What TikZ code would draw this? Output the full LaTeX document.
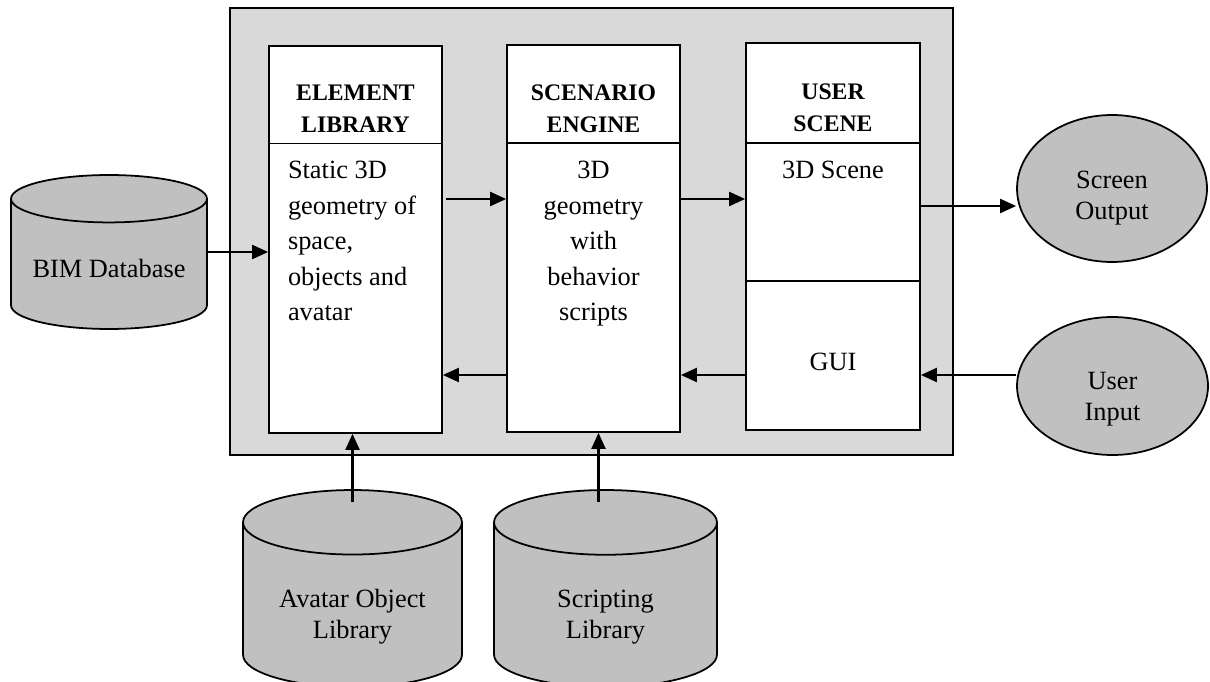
\documentclass[tikz,border=0pt]{standalone}
\usepackage{fontspec}
\setmainfont{Liberation Serif}
\usepackage{tikz}
\usetikzlibrary{shapes.geometric,arrows.meta,positioning,calc}

\definecolor{panelgray}{HTML}{D9D9D9}
\definecolor{dbgray}{HTML}{C0C0C0}

% fixed-size cell content: width, height, top gap, text
\newcommand{\cellbox}[4]{\parbox[t][#2][t]{#1}{\vspace*{#3}#4}}

\begin{document}
\begin{tikzpicture}[
  x=0.02cm, y=-0.02cm,
  panel/.style={draw, line width=1pt, fill=panelgray, inner sep=0pt},
  cell/.style={draw, line width=1pt, fill=white, inner sep=0pt},
  head/.style={font=\fontsize{13.5}{18.2}\selectfont\bfseries},
  body/.style={font=\fontsize{15}{20.2}\selectfont},
  ext/.style={draw, line width=1pt, ellipse, fill=dbgray, inner sep=0pt, font=\fontsize{15}{17.6}\selectfont},
  db/.style={draw, line width=1pt, cylinder, shape border rotate=90, fill=dbgray, inner sep=0pt, font=\fontsize{15}{17.6}\selectfont, align=center},
  arr/.style={-{Triangle[length=0.32cm,width=0.28cm]}, line width=1.2pt}
]
\useasboundingbox (0,0) rectangle (1210,682);

\node[panel, minimum width=14.46cm, minimum height=8.94cm] (frame) at (591.5,231.5) {};

% three columns
\node[cell, head, minimum width=3.46cm, minimum height=1.95cm] (elemhead) at (355.5,94.75)
  {\cellbox{3.46cm}{1.95cm}{0.78cm}{\centering ELEMENT\\LIBRARY}};
\node[cell, body, minimum width=3.46cm, minimum height=5.79cm] (elembody) at (355.5,288.25)
  {\cellbox{3.46cm}{5.79cm}{0.36cm}{\raggedright\leftskip=0.38cm Static 3D\\geometry of\\space,\\objects and\\avatar}};

\node[cell, head, minimum width=3.46cm, minimum height=1.96cm] (scenhead) at (593.5,94)
  {\cellbox{3.46cm}{1.96cm}{0.8cm}{\centering SCENARIO\\ENGINE}};
\node[cell, body, minimum width=3.46cm, minimum height=5.78cm] (scenbody) at (593.5,287.5)
  {\cellbox{3.46cm}{5.78cm}{0.37cm}{\centering 3D\\geometry\\with\\behavior\\scripts}};

\node[cell, head, minimum width=3.48cm, minimum height=2cm] (userhead) at (833,93)
  {\cellbox{3.48cm}{2cm}{0.82cm}{\centering USER\\SCENE}};
\node[cell, body, minimum width=3.48cm, minimum height=2.76cm] (scene) at (833,212)
  {\cellbox{3.48cm}{2.76cm}{0.37cm}{\centering 3D Scene}};
\node[cell, body, minimum width=3.48cm, minimum height=2.98cm] (gui) at (833,355.5)
  {\cellbox{3.48cm}{2.98cm}{1.44cm}{\centering GUI}};

% outside
\node[ext, minimum width=3.8cm, minimum height=2.94cm] (screen) at (1112,188.5)
  {\cellbox{2.4cm}{1.8cm}{0.56cm}{\centering Screen\\Output}};
\node[ext, minimum width=3.82cm, minimum height=2.76cm] (input) at (1112.5,386)
  {\cellbox{2.4cm}{1.6cm}{0.52cm}{\centering User\\Input}};

\node[db, minimum width=3.92cm, minimum height=3.08cm, aspect=0.31, anchor=shape center] (bim) at (109,252)
  {\rule{0pt}{0.52cm}BIM Database};
\node[db, minimum width=4.38cm, minimum height=3.94cm, aspect=0.44, anchor=shape center] (avatar) at (352.5,588.5)
  {\rule{0pt}{0.82cm}Avatar Object\\Library};
\node[db, minimum width=4.46cm, minimum height=3.94cm, aspect=0.67, anchor=shape center] (script) at (605.5,588.5)
  {\rule{0pt}{0.82cm}Scripting\\Library};

\coordinate (fwdrow) at (0,199);
\coordinate (backrow) at (0,375);
\coordinate (outrow) at (0,206);

\draw[arr] (bim.shape center -| bim.east) -- (bim.shape center -| elembody.west);
\draw[arr] ([xshift=2pt]elembody.east |- fwdrow) -- (scenbody.west |- fwdrow);
\draw[arr] (scenbody.east |- fwdrow) -- (scene.west |- fwdrow);
\draw[arr] (scene.east |- outrow) -- (screen.west |- outrow);
\draw[arr] (input.west |- backrow) -- (gui.east |- backrow);
\draw[arr] (gui.west |- backrow) -- (scenbody.east |- backrow);
\draw[arr] (scenbody.west |- backrow) -- (elembody.east |- backrow);
\draw[arr] ($(avatar.shape center)+(0,-86.5)$) coordinate (a0) -- (a0 |- elembody.south);
\draw[arr] ($(script.shape center)+(-7,-86.5)$) coordinate (s0) -- (s0 |- scenbody.south);

\end{tikzpicture}
\end{document}
